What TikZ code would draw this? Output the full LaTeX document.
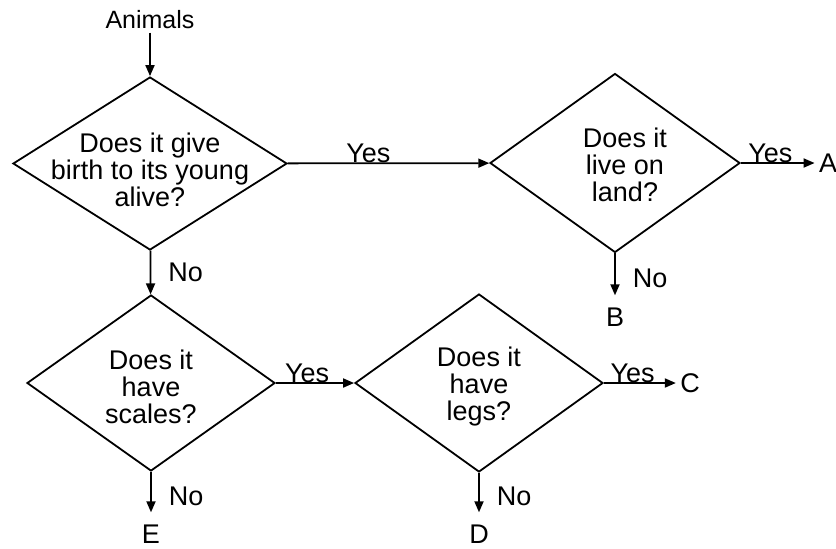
\documentclass[tikz,border=0pt]{standalone}
\usepackage{fontspec}
\setmainfont{Liberation Sans}
\usetikzlibrary{shapes.geometric,arrows.meta}
\begin{document}
\begin{tikzpicture}[x=0.5pt,y=-0.5pt,
	every node/.style={font=\fontsize{13.5}{13.5}\selectfont,inner sep=1.5pt},
	every label/.style={align=center},
	question/.style={diamond,draw,line width=0.9pt,inner sep=0pt},
	leaf/.style={inner sep=2pt},
	yes/.style={pos=0.4,anchor=base,yshift=0.5pt},
	link/.style={-{Triangle[length=5.5pt,width=4.5pt]},line width=0.9pt},
	drop/.style={link,shorten >=4pt}]
\useasboundingbox (0,0) rectangle (836,548);
\node[font=\fontsize{12.5}{13.5}\selectfont] (animals) at (150,20) {Animals};
\node[question,minimum width=137pt,minimum height=86.5pt,
	label={[yshift=-3pt]center:Does it give\\birth to its young\\alive?}] (birth) at (150,163.5) {};
\node[question,minimum width=125pt,minimum height=89.5pt,
	label={[xshift=5pt,yshift=-1pt]center:Does it\\live on\\land?}] (land) at (615,163) {};
\node[question,minimum width=124pt,minimum height=88pt,
	label={[yshift=-2pt]center:Does it\\have\\scales?}] (scales) at (151,383) {};
\node[question,minimum width=124pt,minimum height=89pt,
	label={[yshift=-2pt]center:Does it\\have\\legs?}] (legs) at (479,383) {};
\node[leaf] (A) at (828,163) {A};
\node[leaf] (B) at (615,317) {B};
\node[leaf] (C) at (690,383) {C};
\node[leaf] (D) at (479,534) {D};
\node[leaf] (E) at (151,534) {E};
\draw[link] (animals) -- (birth);
\draw[link] (birth) -- node[yes]{Yes} (land);
\draw[link] (land) -- node[yes]{Yes} (A);
\draw[drop] (land) -- node[right=7pt]{No} (B);
\draw[link] (birth) -- node[right=7pt]{No} (scales);
\draw[link] (scales) -- node[yes]{Yes} (legs);
\draw[drop] (scales) -- node[right=7pt]{No} (E);
\draw[link] (legs) -- node[yes]{Yes} (C);
\draw[drop] (legs) -- node[right=7pt]{No} (D);
\end{tikzpicture}
\end{document}
